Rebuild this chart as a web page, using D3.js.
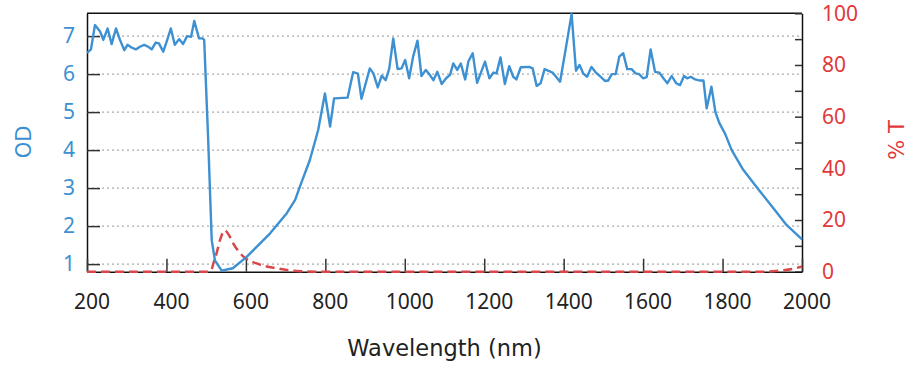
<!DOCTYPE html>
<html><head><meta charset="utf-8">
<script src="https://cdn.jsdelivr.net/npm/d3@7"></script>
<style>
html,body{margin:0;padding:0;background:#fff;}
text{font-family:"Noto Sans",sans-serif;}
</style></head>
<body><svg id="chart" width="916" height="368"></svg>
<script>
// Optical density curve (wavelength nm, OD)
const odWavelength = [200,210,220,233,241,252,262,273,283,294,302,312,323,333,344,354,363,373,381,392,402,411,421,432,442,452,462,470,482,491,495,505,514,522,539,567,602,661,703,724,736,761,782,799,812,822,856,870,882,891,912,921,932,942,952,961,971,982,992,1001,1011,1021,1032,1042,1053,1063,1072,1082,1093,1104,1114,1122,1132,1141,1152,1160,1171,1182,1191,1202,1213,1223,1231,1241,1252,1263,1273,1281,1292,1313,1322,1332,1342,1352,1372,1391,1409,1420,1431,1440,1449,1459,1470,1481,1491,1504,1512,1521,1531,1540,1550,1560,1571,1581,1590,1600,1609,1619,1630,1641,1651,1661,1672,1683,1693,1703,1711,1720,1731,1743,1752,1760,1772,1782,1792,1806,1823,1852,1890,1928,1961,2000];
const odValues = [6.56,6.65,7.29,7.12,6.90,7.20,6.79,7.20,6.90,6.63,6.77,6.70,6.65,6.72,6.77,6.72,6.65,6.83,6.81,6.59,6.90,7.20,6.77,6.92,6.79,7.00,6.98,7.40,6.94,6.94,6.90,4.30,1.63,1.10,0.83,0.89,1.19,1.81,2.34,2.69,3.04,3.74,4.53,5.49,4.62,5.36,5.38,6.05,6.01,5.35,6.15,6.02,5.65,5.96,5.84,6.15,6.94,6.13,6.15,6.37,5.89,6.46,6.88,5.95,6.11,5.98,5.84,6.06,5.74,5.89,5.98,6.28,6.11,6.28,5.86,6.33,6.55,5.77,6.02,6.33,5.89,6.04,6.02,6.44,5.74,6.21,5.93,5.86,6.18,6.19,6.15,5.69,5.76,6.13,6.04,5.80,6.90,7.58,6.09,6.24,6.02,5.93,6.19,6.04,5.95,5.82,5.83,6.00,6.00,6.46,6.55,6.13,6.13,6.02,6.00,5.89,5.92,6.65,6.06,6.04,5.89,5.76,5.95,5.76,5.71,5.95,5.89,5.93,5.86,5.83,5.83,5.10,5.67,5.00,4.71,4.44,4.00,3.48,2.97,2.47,2.03,1.65];
// Transmission curve (wavelength nm, % T)
const tWavelength = [200,505,514,517,527,535,547,558,568,594,627,678,736,800,1900,1950,1980,2000];
const tValues = [0,0,1,2.6,7.6,12.3,16,14,11,5.8,3.2,1.3,0.2,0,0,0.5,1.2,2];
// Ticks
const xTicks = [200,400,600,800,1000,1200,1400,1600,1800,2000];
const odTicks = [1,2,3,4,5,6,7];
const tTicks = [0,10,20,30,40,50,60,70,80,90,100];
const tLabelTicks = [0,20,40,60,80,100];
const xTitle = "Wavelength (nm)";
const odTitle = "OD";
const tTitle = "% T";

const blue = "#3d90d1", red = "#e0393c", redLine = "#d9474a";
const L = 87, R = 802, T = 13.3, B = 271.7;
const svg = d3.select("#chart");
const x = d3.scaleLinear().domain([200,2000]).range([L,R]);
const yL = d3.scaleLinear().domain([0.8,7.6]).range([B,T]);
const yR = d3.scaleLinear().domain([0,100]).range([B,T]);

// grid
svg.append("g").selectAll("line").data(odTicks).join("line")
  .attr("x1",L).attr("x2",R).attr("y1",d=>yL(d)).attr("y2",d=>yL(d))
  .attr("stroke","#aaa").attr("stroke-width",1.2).attr("stroke-dasharray","2,3");

// frame top
svg.append("line").attr("x1",L).attr("x2",R).attr("y1",T).attr("y2",T).attr("stroke","#111").attr("stroke-width",1.5);

const fs = "21px";
// left axis
const gl = svg.append("g").attr("transform",`translate(${L},0)`)
  .call(d3.axisLeft(yL).tickValues(odTicks).tickSizeInner(-13).tickSizeOuter(0).tickPadding(12).tickFormat(d3.format("d")));
gl.select(".domain").attr("stroke","#111").attr("stroke-width",1.5);
gl.selectAll(".tick line").attr("stroke","#333").attr("stroke-width",1.5);
gl.selectAll(".tick text").attr("fill",blue).style("font-size",fs).style("font-family","'Noto Sans'");

// right axis
const gr = svg.append("g").attr("transform",`translate(${R},0)`)
  .call(d3.axisRight(yR).tickValues(tTicks).tickSizeInner(-7).tickSizeOuter(0).tickPadding(20)
    .tickFormat(d=>tLabelTicks.includes(d)?String(d):""));
gr.select(".domain").attr("stroke","#111").attr("stroke-width",1.5);
gr.selectAll(".tick line").attr("stroke","#333").attr("stroke-width",1.5);
gr.selectAll(".tick text").attr("fill",red).style("font-size",fs).style("font-family","'Noto Sans'");

// bottom axis
const gb = svg.append("g").attr("transform",`translate(0,${B})`)
  .call(d3.axisBottom(x).tickValues(xTicks).tickSizeInner(-13).tickSizeOuter(0).tickPadding(22).tickFormat(d3.format("d")));
gb.select(".domain").attr("stroke","#111").attr("stroke-width",1.5);
gb.selectAll(".tick line").attr("stroke","#333").attr("stroke-width",1.5);
gb.selectAll(".tick text").attr("fill","#222").attr("dx",4.5).style("font-size",fs).style("font-family","'Noto Sans'");

// curves
const odData = odWavelength.map((w,i)=>[w,odValues[i]]);
const tData = tWavelength.map((w,i)=>[w,tValues[i]]);
svg.append("path").datum(tData).attr("fill","none").attr("stroke",redLine).attr("stroke-width",2.5)
  .attr("stroke-dasharray","9,5")
  .attr("d",d3.line().x(d=>x(d[0])).y(d=>yR(d[1])).curve(d3.curveMonotoneX));
svg.append("path").datum(odData).attr("fill","none").attr("stroke",blue).attr("stroke-width",2.4)
  .attr("stroke-linejoin","round")
  .attr("d",d3.line().x(d=>x(d[0])).y(d=>yL(d[1])));

// titles
svg.append("text").attr("x",(L+R)/2).attr("y",356).attr("text-anchor","middle")
  .attr("fill","#222").style("font-size","22.5px").style("font-family","'DejaVu Sans'").text(xTitle);
svg.append("text").attr("transform","translate(31,142) rotate(-90)").attr("text-anchor","middle")
  .attr("fill",blue).style("font-size","21px").style("font-family","'DejaVu Sans'").text(odTitle);
svg.append("text").attr("transform","translate(904,140) rotate(-90)").attr("text-anchor","middle")
  .attr("fill",red).style("font-size","21px").style("font-family","'DejaVu Sans'").text(tTitle);
</script></body></html>
